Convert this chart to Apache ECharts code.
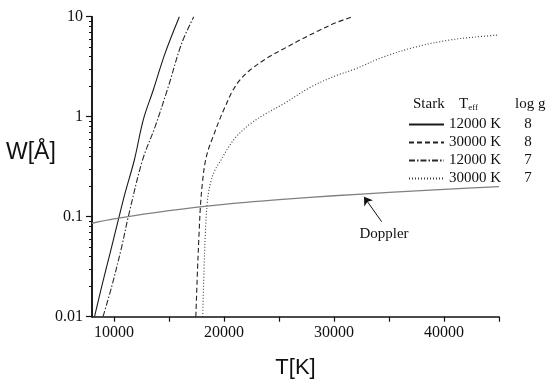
<!DOCTYPE html>
<html>
<head>
<meta charset="utf-8">
<script src="https://cdn.jsdelivr.net/npm/echarts@6/dist/echarts.min.js"></script>
<style>html,body{margin:0;padding:0;background:#fff}#c{width:550px;height:390px}</style>
</head>
<body>
<div id="c"></div>
<script>
// ---- data ----
const solid12k8T = [8230, 8880, 9640, 10390, 11000, 11850, 12660, 13570, 14640, 15940];
const solid12k8W = [0.010, 0.020, 0.043, 0.093, 0.171, 0.369, 0.93, 1.85, 4.3, 10];

const dashed30k8T = [17440, 17591, 17727, 17864, 18045, 18273, 18591, 19000, 19545, 20091, 20727, 21455, 22364, 23882, 25391, 26909, 28545, 30091, 31727];
const dashed30k8W = [0.010, 0.0293, 0.0656, 0.131, 0.222, 0.344, 0.475, 0.627, 0.906, 1.25, 1.77, 2.33, 2.93, 3.84, 4.75, 5.85, 7.19, 8.65, 10];

const dashdot12k7T = [9000, 9790, 10700, 11300, 12600, 13730, 14940, 16150, 17250];
const dashdot12k7W = [0.010, 0.020, 0.050, 0.10, 0.37, 0.79, 2.0, 5.4, 10];

const dotted30k7T = [18064, 18182, 18318, 18500, 18773, 19182, 19727, 20364, 21091, 22364, 23727, 25391, 27818, 30091, 31909, 34482, 37518, 40545, 42818, 44936];
const dotted30k7W = [0.010, 0.0293, 0.0736, 0.147, 0.217, 0.293, 0.369, 0.486, 0.627, 0.845, 1.06, 1.34, 1.96, 2.55, 3.0, 3.95, 5.01, 5.85, 6.26, 6.56];

const dopplerT = [8000, 10000, 15000, 20000, 25000, 30000, 35000, 40000, 45000];
const dopplerW = [0.086, 0.095, 0.115, 0.133, 0.148, 0.162, 0.175, 0.188, 0.200];

const legendNames = ['12000 K, log g 8', '30000 K, log g 8', '12000 K, log g 7', '30000 K, log g 7'];
const teffLabels = ['12000 K', '30000 K', '12000 K', '30000 K'];
const loggLabels = ['8', '8', '7', '7'];

const xTickValues = [10000, 15000, 20000, 25000, 30000, 35000, 40000, 45000];
const xLabelValues = [10000, 20000, 30000, 40000];
const yMinorTickValues = [0.02,0.03,0.04,0.05,0.06,0.07,0.08,0.09,0.2,0.3,0.4,0.5,0.6,0.7,0.8,0.9,2,3,4,5,6,7,8,9];

const arrowFrom = [34336, 0.089];
const arrowTo = [32727, 0.158];
const dopplerLabelAt = [34545, 0.067];

function pairs(xs, ys) { return xs.map((x, i) => [x, ys[i]]); }

const serif = '"Liberation Serif", "Times New Roman", serif';
const sans = '"Liberation Sans", Arial, sans-serif';

const chart = echarts.init(document.getElementById('c'), null, {renderer: 'canvas'});
chart.setOption({
  animation: false,
  backgroundColor: '#fff',
  grid: {left: 92, right: 51, top: 16.7, bottom: 73.3, containLabel: false},
  xAxis: {
    type: 'value', min: 8000, max: 45000,
    name: 'T[K]', nameLocation: 'middle', nameGap: 40,
    nameTextStyle: {fontFamily: sans, fontSize: 22, color: '#111'},
    axisLine: {show: true, onZero: false, lineStyle: {color: '#111', width: 1.5}},
    axisTick: {show: true, customValues: xTickValues, length: 5, lineStyle: {color: '#111', width: 1.2}},
    axisLabel: {customValues: xLabelValues, margin: 8, fontFamily: serif, fontSize: 16, color: '#111',
      formatter: function (v) { return String(v); }},
    splitLine: {show: false}
  },
  yAxis: [{
    type: 'log', logBase: 10, min: 0.01, max: 10,
    axisLine: {show: true, onZero: false, lineStyle: {color: '#111', width: 1.5}},
    axisTick: {show: true, length: 6, lineStyle: {color: '#111', width: 1.2}},
    axisLabel: {margin: 9, fontFamily: serif, fontSize: 16, color: '#111'},
    splitLine: {show: false}
  }, {
    // helper axis in log10 space carrying only the minor ticks
    type: 'value', min: -2, max: 1, position: 'left', offset: 0,
    axisLine: {show: true, onZero: false, lineStyle: {color: '#111', width: 1.5}},
    axisTick: {show: true, customValues: yMinorTickValues.map(Math.log10), length: 3, lineStyle: {color: '#111', width: 1}},
    axisLabel: {show: false},
    splitLine: {show: false}
  }],
  legend: {
    data: legendNames,
    orient: 'vertical', left: 408, top: 117, padding: 0,
    itemWidth: 35, itemHeight: 14, itemGap: 3,
    selectedMode: false,
    itemStyle: {opacity: 0},
    formatter: function (name) {
      const i = legendNames.indexOf(name);
      return '{t|' + teffLabels[i] + '}{g|' + loggLabels[i] + '}';
    },
    textStyle: {
      fontFamily: serif, fontSize: 15, color: '#111',
      rich: {
        t: {width: 69, fontFamily: serif, fontSize: 15, color: '#111', lineHeight: 14},
        g: {width: 20, align: 'center', fontFamily: serif, fontSize: 15, color: '#111', lineHeight: 14}
      }
    }
  },
  graphic: [
    {type: 'text', left: 6, top: 141, style: {text: 'W[Å]', font: '23px ' + sans, fill: '#111'}},
    {type: 'text', left: 413, top: 97, style: {text: 'Stark', font: '15px ' + serif, fill: '#111'}},
    {type: 'text', left: 459, top: 97, style: {
      text: '{a|T}{b|eff}', rich: {
        a: {fontFamily: serif, fontSize: 15, fill: '#111', verticalAlign: 'bottom'},
        b: {fontFamily: serif, fontSize: 9, fill: '#111', padding: [8, 0, 0, 0], verticalAlign: 'bottom'}
      }}},
    {type: 'text', left: 515, top: 97, style: {text: 'log g', font: '15px ' + serif, fill: '#111'}}
  ],
  series: [
    {name: legendNames[0], type: 'line', data: pairs(solid12k8T, solid12k8W), showSymbol: false, symbol: 'none',
      smooth: 0.35, itemStyle: {color: '#1a1a1a'}, lineStyle: {color: '#1a1a1a', width: 1.1, type: 'solid'}},
    {name: legendNames[1], type: 'line', data: pairs(dashed30k8T, dashed30k8W), showSymbol: false, symbol: 'none',
      smooth: 0.35, itemStyle: {color: '#222'}, lineStyle: {color: '#222', width: 1.1, type: [5, 3]}},
    {name: legendNames[2], type: 'line', data: pairs(dashdot12k7T, dashdot12k7W), showSymbol: false, symbol: 'none',
      smooth: 0.35, itemStyle: {color: '#2a2a2a'}, lineStyle: {color: '#2a2a2a', width: 1.1, type: [6, 2, 1.5, 2]}},
    {name: legendNames[3], type: 'line', data: pairs(dotted30k7T, dotted30k7W), showSymbol: false, symbol: 'none',
      smooth: 0.35, itemStyle: {color: '#3a3a3a'}, lineStyle: {color: '#3a3a3a', width: 1.1, type: [1, 2]}},
    {name: 'Doppler', type: 'line', data: pairs(dopplerT, dopplerW), showSymbol: false, symbol: 'none',
      smooth: 0.3, itemStyle: {color: '#808080'}, lineStyle: {color: '#808080', width: 1.3},
      markLine: {
        silent: true, symbol: ['none', 'arrow'], symbolSize: 8,
        lineStyle: {color: '#111', width: 1, type: 'solid'}, label: {show: false},
        emphasis: {disabled: true},
        data: [[{coord: arrowFrom}, {coord: arrowTo}]]
      },
      markPoint: {
        silent: true, symbol: 'circle', symbolSize: 0,
        label: {show: true, position: 'inside', formatter: 'Doppler', fontFamily: serif, fontSize: 15, color: '#111'},
        data: [{coord: dopplerLabelAt}]
      }
    }
  ]
});
</script>
</body>
</html>
